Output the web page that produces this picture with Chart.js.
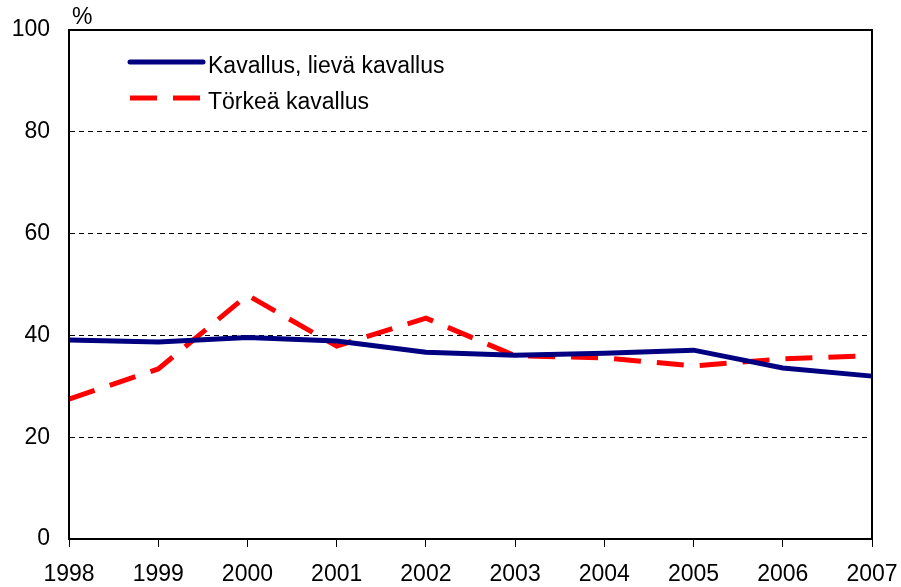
<!DOCTYPE html>
<html>
<head>
<meta charset="utf-8">
<script src="https://cdn.jsdelivr.net/npm/chart.js@4"></script>
<style>
  html, body { margin: 0; padding: 0; background: #fff; }
  #wrap { position: relative; width: 901px; height: 587px; }
</style>
</head>
<body>
<div id="wrap"><canvas id="chart" width="901" height="587"></canvas></div>
<script>
/* ── Data ── */
const YEARS     = ['1998', '1999', '2000', '2001', '2002', '2003', '2004', '2005', '2006', '2007'];
const KAVALLUS  = [39.1, 38.7, 39.6, 38.9, 36.7, 36.1, 36.5, 37.1, 33.6, 32.0];
const TORKEA    = [27.5, 33.4, 47.9, 37.9, 43.4, 36.0, 35.6, 34.0, 35.4, 36.0];
const SERIES_LABELS = ['Kavallus, lievä kavallus', 'Törkeä kavallus'];
const Y_TICKS   = [0, 20, 40, 60, 80, 100];

const FONT = '"Liberation Sans", Arial, sans-serif';
const FONT_SIZE = 23;

/* ── Frame, % label and legend inside the plot ── */
const extras = {
  id: 'extras',
  afterDraw(chart) {
    const { ctx, chartArea: a } = chart;
    ctx.save();
    ctx.strokeStyle = '#000';
    ctx.lineWidth = 2;
    ctx.strokeRect(a.left, a.top, a.right - a.left, a.bottom - a.top);

    ctx.fillStyle = '#000';
    ctx.font = FONT_SIZE + 'px ' + FONT;
    ctx.textBaseline = 'alphabetic';
    ctx.textAlign = 'left';
    ctx.fillText('%', a.left + 3, 24);

    chart.data.datasets.forEach((ds, i) => {
      const y = 62 + i * 36;
      ctx.beginPath();
      ctx.lineWidth = 5;
      ctx.strokeStyle = ds.borderColor;
      ctx.setLineDash(ds.borderDash || []);
      ctx.lineCap = i === 0 ? 'round' : 'butt';
      ctx.moveTo(130, y);
      ctx.lineTo(203, y);
      ctx.stroke();
      ctx.setLineDash([]);
      ctx.fillText(ds.label, 208, y + 11);
    });
    ctx.restore();
  },
};

new Chart(document.getElementById('chart'), {
  type: 'line',
  data: {
    labels: YEARS,
    datasets: [
      {
        label:       SERIES_LABELS[0],
        data:        KAVALLUS,
        borderColor: '#000080',
        borderWidth: 5,
        pointRadius: 0,
        tension:     0,
      },
      {
        label:       SERIES_LABELS[1],
        data:        TORKEA,
        borderColor: '#ff0000',
        borderWidth: 5,
        borderDash:  [27, 16],
        borderCapStyle: 'butt',
        pointRadius: 0,
        tension:     0,
      },
    ],
  },
  options: {
    responsive: false,
    animation:  false,
    layout: { padding: { top: 30, right: 29, left: 0, bottom: 0 } },
    plugins: {
      legend:  { display: false },
      tooltip: { enabled: false },
    },
    scales: {
      x: {
        afterFit: s => { s.height = 48; s.paddingLeft = 0; s.paddingRight = 0; },
        grid: {
          drawOnChartArea: false,
          drawTicks: true,
          tickLength: 8,
          color: '#000',
          lineWidth: 1,
        },
        border: { color: '#000', width: 2 },
        ticks: {
          color: '#000',
          font: { family: FONT, size: FONT_SIZE },
          padding: 14,
          maxRotation: 0,
          autoSkip: false,
        },
      },
      y: {
        min: 0,
        max: 100,
        afterFit: s => { s.width = 69; s.paddingTop = 0; s.paddingBottom = 0; },
        afterBuildTicks: s => { s.ticks = Y_TICKS.map(v => ({ value: v })); },
        grid: {
          drawTicks: false,
          color: ctx => (ctx.tick && (ctx.tick.value === 0 || ctx.tick.value === 100)) ? 'rgba(0,0,0,0)' : '#000',
          lineWidth: 1,
        },
        border: { color: '#000', width: 2, dash: [5, 4] },
        ticks: {
          color: '#000',
          font: { family: FONT, size: FONT_SIZE },
          padding: 19,
        },
      },
    },
  },
  plugins: [extras],
});
</script>
</body>
</html>
